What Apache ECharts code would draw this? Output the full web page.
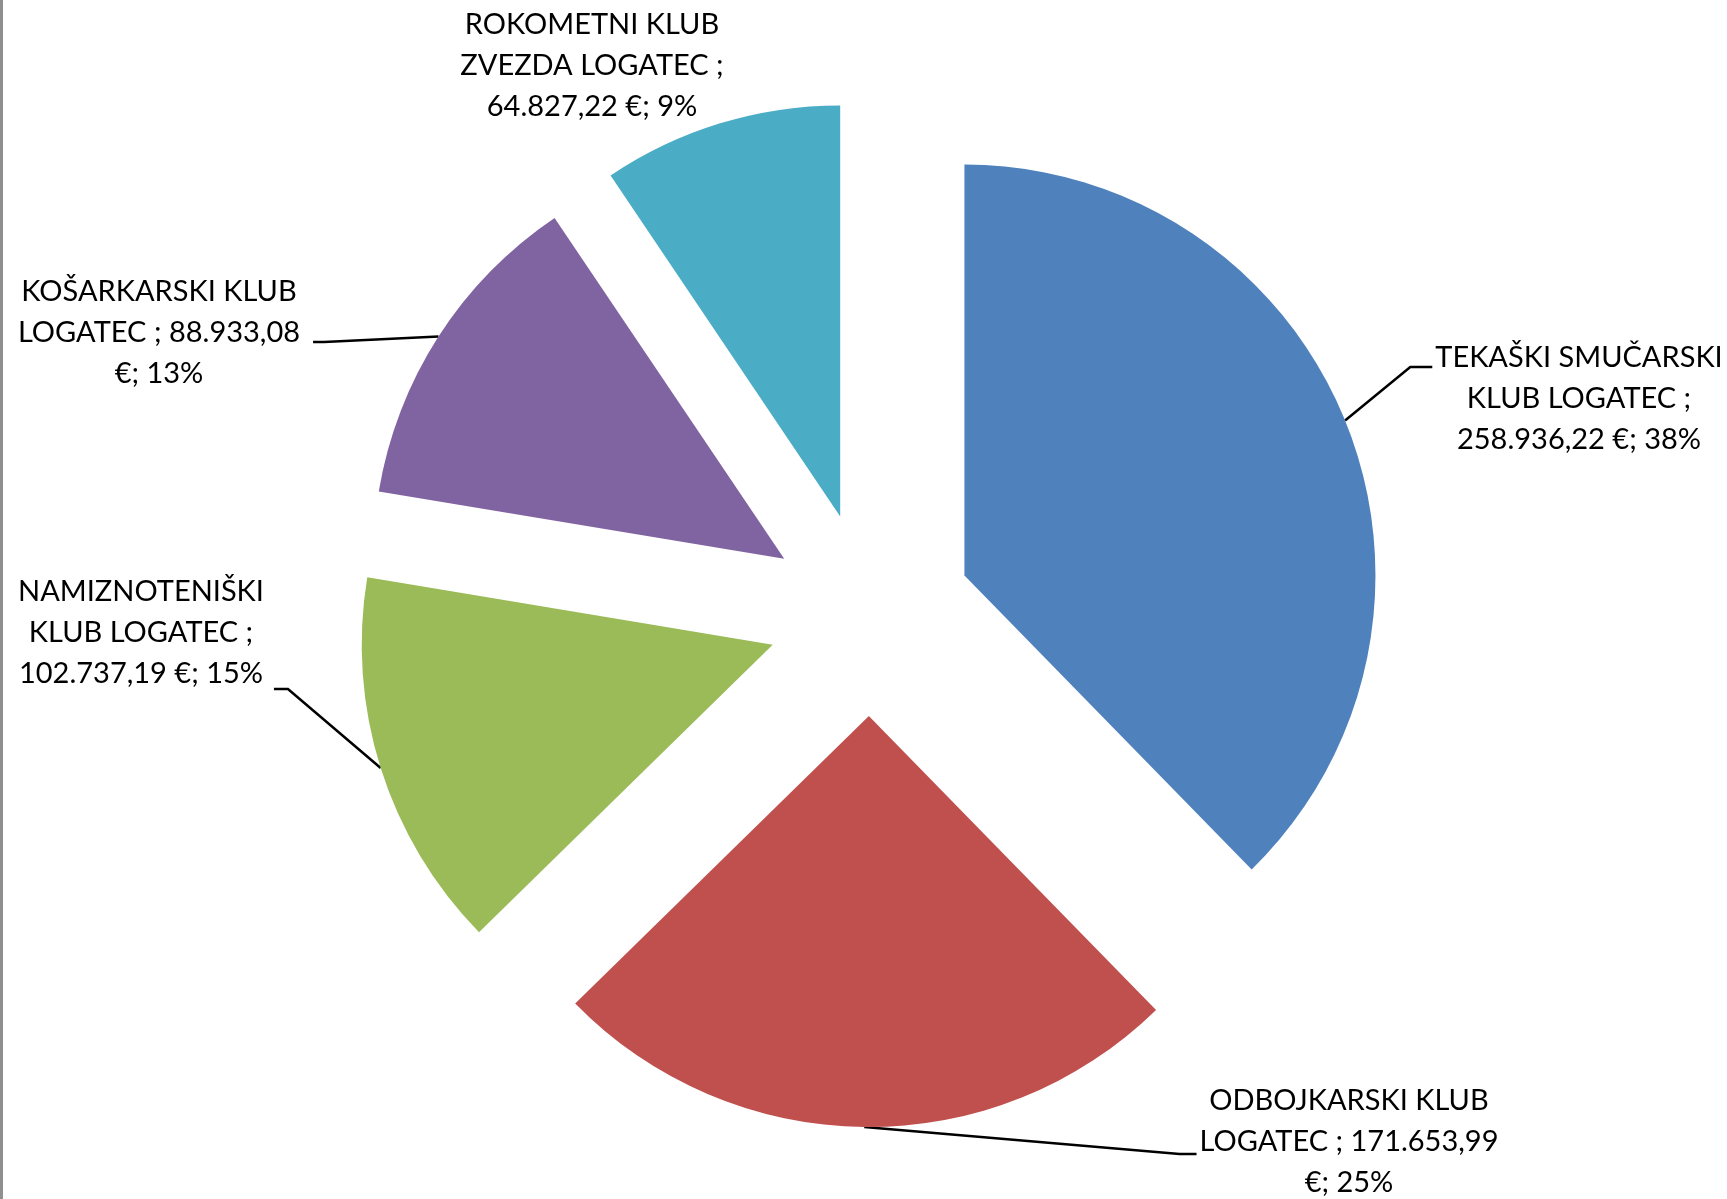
<!DOCTYPE html>
<html>
<head>
<meta charset="utf-8">
<script src="https://cdn.jsdelivr.net/npm/echarts@6/dist/echarts.min.js"></script>
<style>
html, body { margin: 0; padding: 0; background: #fff; }
#chart { width: 1727px; height: 1199px; }
#edge { position: absolute; left: 0; top: 0; width: 3px; height: 1199px; background: #8f8f8f; }
</style>
</head>
<body>
<div id="chart"></div>
<div id="edge"></div>
<script>
const clubs = [
  "TEKAŠKI SMUČARSKI KLUB LOGATEC",
  "ODBOJKARSKI KLUB LOGATEC",
  "NAMIZNOTENIŠKI KLUB LOGATEC",
  "KOŠARKARSKI KLUB LOGATEC",
  "ROKOMETNI KLUB ZVEZDA LOGATEC",
];
const amounts = [258936.22, 171653.99, 102737.19, 88933.08, 64827.22];
const colors = ["#4F81BD", "#C0504D", "#9BBB59", "#8064A2", "#4BACC6"];

// where the label text wraps (word index that starts a new line)
const labelBreaks = [[2, 5], [2, 5], [1, 4], [2, 5], [2, 5]];
// label centres (px)
const labelPos = [[1579, 399], [1349, 1142], [141, 633], [159, 333], [592, 66]];
// leader line: vertical offset from label centre, gap to text, short horizontal piece
const leaderDy = [-32, 12, 56, 9];
const leaderGap = [3, 3, 10, 13];
const leaderLen = [22, 17, 14, 11];

const cx = 870, cy = 614, radius = 411, explode = 102;

function fmt(v) {
  const parts = v.toFixed(2).split(".");
  return parts[0].replace(/\B(?=(\d{3})+(?!\d))/g, ".") + "," + parts[1];
}

function wrap(text, breaks) {
  return text.split(" ").map((w, k) => (breaks.indexOf(k) >= 0 ? "\n" : (k ? " " : "")) + w).join("");
}

const total = amounts.reduce((s, v) => s + v, 0);
let acc = 0;

// one pie per slice so every slice can be pulled out from the centre
const series = amounts.map((v, i) => {
  const mid = (acc + v / 2) / total;
  acc += v;
  const a = (90 - mid * 360) * Math.PI / 180;
  return {
    type: "pie",
    center: [cx + explode * Math.cos(a), cy - explode * Math.sin(a)],
    radius: radius,
    startAngle: 90,
    clockwise: true,
    avoidLabelOverlap: false,
    silent: true,
    emphasis: { disabled: true },
    itemStyle: { borderWidth: 0 },
    label: {
      position: "outside",
      color: "#000",
      fontFamily: "Lato",
      fontSize: 29,
      lineHeight: 41,
      align: "center",
      formatter: function(p) {
        const s = p.name + " ; " + fmt(p.value) + " €; " + Math.round(p.percent) + "%";
        return wrap(s, labelBreaks[p.dataIndex]);
      },
    },
    labelLine: {
      length: 20,
      length2: 15,
      lineStyle: { color: "#000", width: 2.5 },
    },
    labelLayout: function(p) {
      const j = p.dataIndex;
      const x = labelPos[j][0], y = labelPos[j][1];
      const out = { x: x, y: y, align: "center", verticalAlign: "middle" };
      if (p.labelLinePoints && j < 4) {
        const start = p.labelLinePoints[0];
        const half = p.labelRect.width / 2;
        const right = x > start[0];
        const ex = right ? x - half - leaderGap[j] : x + half + leaderGap[j];
        const ey = y + leaderDy[j];
        out.labelLinePoints = [
          start,
          [right ? ex - leaderLen[j] : ex + leaderLen[j], ey],
          [ex, ey],
        ];
      }
      return out;
    },
    data: clubs.map((n, j) => ({
      name: n,
      value: amounts[j],
      itemStyle: { color: j === i ? colors[j] : "rgba(0,0,0,0)" },
      label: { show: j === i },
      labelLine: { show: j === i && j !== 4 },
    })),
  };
});

var myChart = echarts.init(document.getElementById("chart"));
myChart.setOption({ animation: false, series: series });
</script>
</body>
</html>
